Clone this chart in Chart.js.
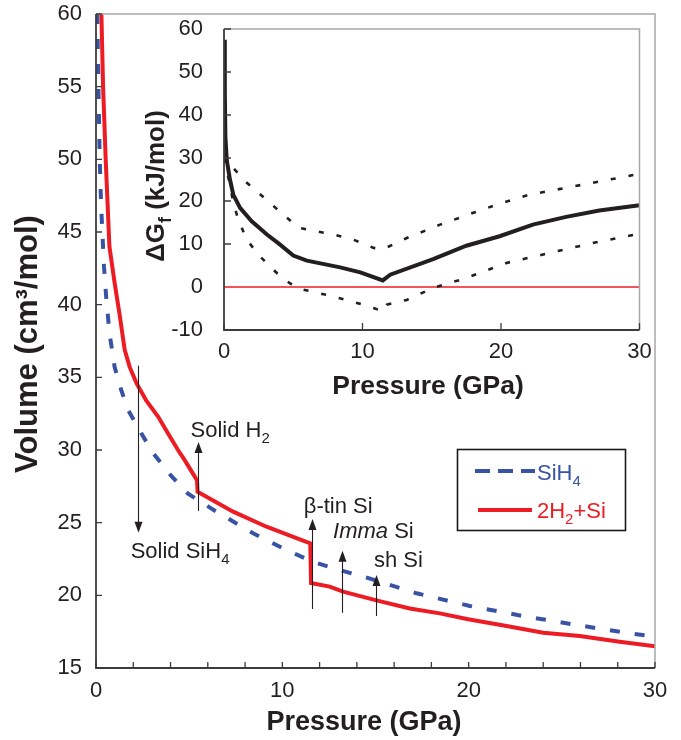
<!DOCTYPE html>
<html>
<head>
<meta charset="utf-8">
<script src="https://cdn.jsdelivr.net/npm/chart.js@4.4.0/dist/chart.umd.min.js"></script>
<style>
  html, body { margin: 0; padding: 0; background: #fff; }
  #wrap { position: relative; width: 681px; height: 740px; }
  #wrap canvas { position: absolute; left: 0; top: 0; }
</style>
</head>
<body>
<div id="wrap">
  <canvas id="main" width="681" height="740"></canvas>
  <canvas id="inset" width="681" height="740"></canvas>
</div>
<script>
// main panel: molar volume (cm3/mol) vs pressure (GPa)
const pSiH4 = [0.07, 0.13, 0.2, 0.27, 0.34, 0.43, 0.56, 0.73, 1.0, 1.36, 1.72, 2.43, 3.06, 4.05, 4.94, 6.28, 8.43, 10.22, 11.65, 12.9, 14.33, 17.2, 20.06, 22.9, 25.8, 28.65, 30];
const vSiH4 = [60, 55, 50, 47, 45, 42.6, 40.3, 38.0, 35.7, 34.1, 32.76, 31.15, 29.8, 28.2, 27.0, 25.9, 24.27, 23.12, 22.3, 21.8, 21.3, 20.14, 19.27, 18.58, 17.96, 17.38, 17.16];
const pMix = [0.29, 0.38, 0.52, 0.72, 1.0, 1.28, 1.54, 1.81, 2.17, 2.7, 3.33, 3.86, 4.4, 4.76, 5.3, 5.42, 5.45, 7.36, 9.15, 11.5, 11.54, 12.54, 13.26, 15.05, 16.84, 18.45, 19.97, 22.03, 24.0, 25.96, 28.1, 30];
const vMix = [60, 55, 50, 44, 41.5, 39.2, 36.9, 35.7, 34.6, 33.4, 32.3, 31.15, 30.0, 29.3, 28.17, 27.9, 27.13, 25.76, 24.72, 23.58, 20.85, 20.6, 20.25, 19.65, 19.1, 18.76, 18.35, 17.89, 17.43, 17.2, 16.81, 16.5];

// inset: formation free energy (kJ/mol) with upper / lower bounds
const pDG = [0.03, 0.06, 0.1, 0.2, 0.43, 0.67, 1.16, 2.0, 3.1, 4.05, 5.0, 5.98, 8.39, 9.84, 11.47, 12.0, 15.1, 17.5, 19.9, 22.3, 24.7, 27.1, 30];
const dG = [57.5, 45, 35, 29.5, 25.0, 21.5, 18.4, 15.3, 12.2, 9.86, 7.3, 6.13, 4.57, 3.4, 1.54, 2.87, 6.5, 9.6, 11.8, 14.5, 16.3, 17.8, 19.0];
const pDGHi = [0.05, 0.55, 1.52, 2.48, 5.4, 7.9, 9.35, 10.8, 11.5, 13.2, 15.6, 18.0, 20.0, 22.1, 25.9, 30];
const dGHi = [31, 28.1, 24.6, 21.9, 13.75, 12.2, 11.0, 9.1, 8.8, 11.4, 14.5, 17.25, 19.5, 21.5, 23.8, 26.3];
const pDGLo = [0.05, 0.2, 0.43, 0.67, 1.03, 1.64, 2.6, 4.05, 5.25, 7.9, 9.6, 10.8, 11.5, 11.76, 13.2, 15.1, 17.5, 20.4, 23.5, 26.7, 30];
const dGLo = [30, 27, 23.8, 19.6, 15.7, 11.0, 7.1, 2.5, -0.25, -2.2, -3.7, -4.9, -5.7, -4.1, -3.0, -0.2, 2.1, 5.6, 7.9, 10.3, 12.4];

// tick labels
const presLabels = [0, 10, 20, 30];
const volTicks = [15, 20, 25, 30, 35, 40, 45, 50, 55, 60];
const dgTicks = [-10, 0, 10, 20, 30, 40, 50, 60];

// phase-transition arrows (pressure, volume from -> to) and their labels
const arrowP = [2.24, 5.47, 11.6, 13.2, 15.05];
const arrowFrom = [35.8, 25.8, 19.06, 18.8, 18.58];
const arrowTo = [24.3, 30.55, 25.25, 23.07, 21.4];
const noteText = [
    [['Solid SiH', ''], ['4', 'sub']],
    [['Solid H', ''], ['2', 'sub']],
    [['\u03b2-tin Si', '']],
    [['Imma', 'i'], [' Si', '']],
    [['sh Si', '']],
];
const noteP = [1.86, 5.07, 11.15, 12.72, 14.92];
const noteV = [22.55, 30.92, 25.65, 23.93, 21.97];

const FONT = '"Liberation Sans", Arial, Helvetica, sans-serif';
const INK = '#231f20';
const RED = '#ed1c24';
const BLUE = '#3953a4';

Chart.defaults.font.family = FONT;
Chart.defaults.color = INK;

const pts = (xs, ys) => xs.map((x, i) => ({ x, y: ys[i] }));

// text with subscripts / italics, optionally rotated
function rich(ctx, parts, o) {
    ctx.save();
    ctx.translate(o.x, o.y);
    if (o.rotate) ctx.rotate(-Math.PI / 2);
    ctx.textBaseline = 'alphabetic';
    ctx.textAlign = 'left';
    ctx.fillStyle = o.color || INK;
    const fontOf = (k) => `${k === 'i' ? 'italic ' : ''}${o.weight || 'normal'} ${k === 'sub' ? o.size * 0.68 : o.size}px ${FONT}`;
    let w = 0;
    parts.forEach(([t, k]) => { ctx.font = fontOf(k); w += ctx.measureText(t).width; });
    let cx = o.align === 'center' ? -w / 2 : 0;
    parts.forEach(([t, k]) => {
        ctx.font = fontOf(k);
        ctx.fillText(t, cx, k === 'sub' ? o.size * 0.27 : 0);
        cx += ctx.measureText(t).width;
    });
    ctx.restore();
}

// the labels must not push the plot area around: layout is fixed by padding + afterFit
const fixY = (w) => (s) => { s.width = w; s.paddingTop = 0; s.paddingBottom = 0; };
const fixX = (h) => (s) => { s.height = h; s.paddingLeft = 0; s.paddingRight = 0; };

const axesFrame = {
    id: 'axesFrame',
    beforeDatasetsDraw(chart, args, o) {
        if (!o.zeroLine) return;
        const { ctx, chartArea: a, scales: { y } } = chart;
        const py = y.getPixelForValue(0);
        ctx.save();
        ctx.strokeStyle = RED; ctx.lineWidth = 1.3;
        ctx.beginPath(); ctx.moveTo(a.left, py); ctx.lineTo(a.right, py); ctx.stroke();
        ctx.restore();
    },
    afterDraw(chart, args, o) {
        const { ctx, chartArea: a, scales: { x, y } } = chart;
        ctx.save();
        ctx.strokeStyle = '#a8a8a8'; ctx.lineWidth = 1.5;
        ctx.beginPath(); ctx.moveTo(a.left, a.top); ctx.lineTo(a.right, a.top); ctx.lineTo(a.right, a.bottom); ctx.stroke();
        ctx.strokeStyle = '#3c3c3c'; ctx.lineWidth = 1.8;
        ctx.beginPath(); ctx.moveTo(a.left, a.top); ctx.lineTo(a.left, a.bottom); ctx.lineTo(a.right, a.bottom); ctx.stroke();
        ctx.lineWidth = 1.3;
        ctx.beginPath();
        x.ticks.forEach((t) => { const px = x.getPixelForValue(t.value); ctx.moveTo(px, a.bottom); ctx.lineTo(px, a.bottom - o.tick); });
        y.ticks.forEach((t) => {
            if (o.zeroLine && t.value === 0) return;
            const py = y.getPixelForValue(t.value); ctx.moveTo(a.left, py); ctx.lineTo(a.left + o.tick, py);
        });
        ctx.stroke();
        (o.titles || []).forEach((t) => rich(ctx, t.parts, t));
        ctx.restore();
    },
};

const notes = {
    id: 'notes',
    afterDraw(chart) {
        const { ctx, scales: { x, y } } = chart;
        ctx.save();
        ctx.strokeStyle = INK; ctx.fillStyle = INK; ctx.lineWidth = 1.1;
        arrowP.forEach((p, i) => {
            const px = Math.round(x.getPixelForValue(p)) + 0.5;
            const y0 = y.getPixelForValue(arrowFrom[i]);
            const y1 = y.getPixelForValue(arrowTo[i]);
            const dir = y1 > y0 ? 1 : -1;
            ctx.beginPath(); ctx.moveTo(px, y0); ctx.lineTo(px, y1 - dir * 10); ctx.stroke();
            ctx.beginPath(); ctx.moveTo(px, y1); ctx.lineTo(px - 4, y1 - dir * 11); ctx.lineTo(px + 4, y1 - dir * 11); ctx.closePath(); ctx.fill();
        });
        noteText.forEach((parts, i) => rich(ctx, parts, { x: x.getPixelForValue(noteP[i]), y: y.getPixelForValue(noteV[i]), size: 22 }));

        // legend box
        const ds = chart.data.datasets;
        const bx = 457, by = 449, bw = 168, bh = 81;
        ctx.strokeStyle = '#1a1a1a'; ctx.lineWidth = 1.6;
        ctx.strokeRect(bx + 0.5, by + 0.5, bw, bh);
        const rows = [
            { d: ds[1], y: 471, x0: 475, x1: 535, dash: [15, 8], parts: [['SiH', ''], ['4', 'sub']], ty: 480 },
            { d: ds[0], y: 510, x0: 478, x1: 532, dash: [], parts: [['2H', ''], ['2', 'sub'], ['+Si', '']], ty: 518 },
        ];
        rows.forEach((r) => {
            ctx.strokeStyle = r.d.borderColor; ctx.lineWidth = r.d.borderWidth; ctx.setLineDash(r.dash);
            ctx.beginPath(); ctx.moveTo(r.x0, r.y); ctx.lineTo(r.x1, r.y); ctx.stroke();
            ctx.setLineDash([]);
            rich(ctx, r.parts, { x: 537, y: r.ty, size: 22, color: r.d.borderColor });
        });
        ctx.restore();
    },
};

const tickFont = { size: 22 };
const noGrid = { display: false, drawTicks: false };

new Chart(document.getElementById('main'), {
    type: 'line',
    data: {
        datasets: [
            { label: '2H2+Si', data: pts(pMix, vMix), borderColor: RED, borderWidth: 4, pointRadius: 0, tension: 0, fill: false },
            { label: 'SiH4', data: pts(pSiH4, vSiH4), borderColor: BLUE, borderWidth: 4, borderDash: [10, 15], pointRadius: 0, tension: 0, fill: false },
        ],
    },
    options: {
        responsive: false, animation: false, devicePixelRatio: 1,
        layout: { padding: { left: 0, top: 14, right: 26, bottom: 0 } },
        plugins: {
            legend: { display: false }, tooltip: { enabled: false },
            axesFrame: {
                tick: 6,
                titles: [
                    { parts: [['Volume (cm\u00b3/mol)', '']], x: 36.5, y: 344, size: 31, weight: 'bold', rotate: true, align: 'center' },
                    { parts: [['Pressure (GPa)', '']], x: 364, y: 730, size: 27, weight: 'bold', align: 'center' },
                ],
            },
        },
        scales: {
            x: {
                type: 'linear', min: 0, max: 30,
                grid: noGrid, border: { display: false },
                ticks: { stepSize: 2, autoSkip: false, maxRotation: 0, padding: 10, font: tickFont, color: INK,
                         callback: (v) => (presLabels.includes(v) ? String(v) : '') },
                afterFit: fixX(72),
            },
            y: {
                type: 'linear', min: 15, max: 60,
                grid: noGrid, border: { display: false },
                ticks: { padding: 14, font: tickFont, color: INK },
                afterBuildTicks: (s) => { s.ticks = volTicks.map((v) => ({ value: v })); },
                afterFit: fixY(96),
            },
        },
    },
    plugins: [axesFrame, notes],
});

new Chart(document.getElementById('inset'), {
    type: 'line',
    data: {
        datasets: [
            { label: 'dG', data: pts(pDG, dG), borderColor: INK, borderWidth: 4, pointRadius: 0, tension: 0, fill: false },
            { label: 'upper', data: pts(pDGHi, dGHi), borderColor: INK, borderWidth: 2.6, borderDash: [5, 13], pointRadius: 0, tension: 0, fill: false },
            { label: 'lower', data: pts(pDGLo, dGLo), borderColor: INK, borderWidth: 2.6, borderDash: [5, 13], pointRadius: 0, tension: 0, fill: false },
        ],
    },
    options: {
        responsive: false, animation: false, devicePixelRatio: 1,
        layout: { padding: { left: 0, top: 29, right: 41.5, bottom: 350 } },
        plugins: {
            legend: { display: false }, tooltip: { enabled: false },
            axesFrame: {
                tick: 7, zeroLine: true,
                titles: [
                    { parts: [['\u0394G', ''], ['f', 'sub'], [' (kJ/mol)', '']], x: 163.5, y: 186, size: 26, weight: 'bold', rotate: true, align: 'center' },
                    { parts: [['Pressure (GPa)', '']], x: 428, y: 393.5, size: 26.5, weight: 'bold', align: 'center' },
                ],
            },
        },
        scales: {
            x: {
                type: 'linear', min: 0, max: 30,
                grid: noGrid, border: { display: false },
                ticks: { maxRotation: 0, autoSkip: false, padding: 8.5, font: tickFont, color: INK },
                afterBuildTicks: (s) => { s.ticks = presLabels.map((v) => ({ value: v })); },
                afterFit: fixX(60),
            },
            y: {
                type: 'linear', min: -10, max: 60,
                grid: noGrid, border: { display: false },
                ticks: { padding: 21, font: tickFont, color: INK },
                afterBuildTicks: (s) => { s.ticks = dgTicks.map((v) => ({ value: v })); },
                afterFit: fixY(224),
            },
        },
    },
    plugins: [axesFrame],
});
</script>
</body>
</html>
